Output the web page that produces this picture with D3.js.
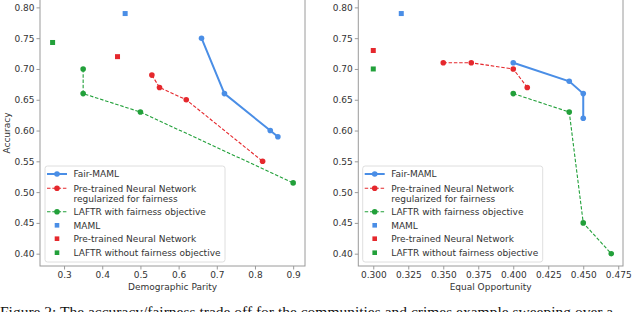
<!DOCTYPE html>
<html>
<head>
<meta charset="utf-8">
<script src="https://d3js.org/d3.v7.min.js"></script>
<style>
  body { margin: 0; background: #fff; }
  text { font-family: "DejaVu Sans", sans-serif; }
</style>
</head>
<body>
<svg id="chart" width="640" height="312"></svg>
<script>
// data
const yTicks = [0.40, 0.45, 0.50, 0.55, 0.60, 0.65, 0.70, 0.75, 0.80];
const dpTicks = [0.3, 0.4, 0.5, 0.6, 0.7, 0.8, 0.9];
const eoTicks = [0.300, 0.325, 0.350, 0.375, 0.400, 0.425, 0.450, 0.475];

// Demographic parity panel
const dpFairMaml = [[0.66, 0.75], [0.72, 0.66], [0.84, 0.60], [0.86, 0.59]];
const dpPretrainedReg = [[0.53, 0.69], [0.55, 0.67], [0.62, 0.65], [0.82, 0.55]];
const dpLaftrFair = [[0.35, 0.70], [0.35, 0.66], [0.50, 0.63], [0.90, 0.515]];
const dpMaml = [[0.46, 0.79]];
const dpPretrained = [[0.44, 0.72]];
const dpLaftr = [[0.27, 0.743]];

// Equal opportunity panel
const eoFairMaml = [[0.40, 0.71], [0.44, 0.68], [0.45, 0.66], [0.45, 0.62]];
const eoPretrainedReg = [[0.35, 0.71], [0.37, 0.71], [0.40, 0.70], [0.41, 0.67]];
const eoLaftrFair = [[0.40, 0.66], [0.44, 0.63], [0.45, 0.45], [0.47, 0.40]];
const eoMaml = [[0.32, 0.79]];
const eoPretrained = [[0.30, 0.73]];
const eoLaftr = [[0.30, 0.70]];

const legendLabels = [
  ["Fair-MAML"],
  ["Pre-trained Neural Network", "regularized for fairness"],
  ["LAFTR with fairness objective"],
  ["MAML"],
  ["Pre-trained Neural Network"],
  ["LAFTR without fairness objective"]
];

const blue = "#4a8ee6", red = "#e5282d", green = "#22a03a";
const spine = "#9a9a9a", ink = "#333";

const svg = d3.select("#chart");

function panel(opt) {
  const x = d3.scaleLinear().domain(opt.xDomain).range(opt.xRange);
  const y = d3.scaleLinear().domain([0.38, 0.812]).range([266, 0]);
  const g = svg.append("g");

  // frame
  g.append("rect")
    .attr("x", opt.xRange[0]).attr("y", -1)
    .attr("width", opt.xRange[1] - opt.xRange[0]).attr("height", 267)
    .attr("fill", "none").attr("stroke", spine).attr("stroke-width", 1);

  const xAxis = g.append("g").attr("transform", "translate(0,266)")
    .call(d3.axisBottom(x).tickValues(opt.xTicks).tickFormat(opt.xFormat).tickSize(3.5).tickPadding(2));
  const yAxis = g.append("g").attr("transform", `translate(${opt.xRange[0]},0)`)
    .call(d3.axisLeft(y).tickValues(yTicks).tickFormat(d3.format(".2f")).tickSize(3.5).tickPadding(2));
  [xAxis, yAxis].forEach(a => {
    a.select(".domain").remove();
    a.selectAll(".tick line").attr("stroke", spine);
    a.selectAll(".tick text").attr("fill", ink).style("font-size", "9px")
      .style("font-family", "DejaVu Sans");
  });

  g.append("text")
    .attr("x", (opt.xRange[0] + opt.xRange[1]) / 2).attr("y", 289.5)
    .attr("text-anchor", "middle").attr("fill", ink).style("font-size", "9px")
    .text(opt.xLabel);
  if (opt.yLabel) {
    g.append("text")
      .attr("transform", "translate(10,133) rotate(-90)")
      .attr("text-anchor", "middle").attr("fill", ink).style("font-size", "9px")
      .text(opt.yLabel);
  }

  const line = d3.line().x(d => x(d[0])).y(d => y(d[1]));
  const series = [
    { data: opt.fairMaml, color: blue, width: 2, dash: null },
    { data: opt.pretrainedReg, color: red, width: 1.1, dash: "3.5,1.8" },
    { data: opt.laftrFair, color: green, width: 1.1, dash: "3.5,1.8" }
  ];
  series.forEach(s => {
    g.append("path").datum(s.data)
      .attr("d", line).attr("fill", "none")
      .attr("stroke", s.color).attr("stroke-width", s.width)
      .attr("stroke-dasharray", s.dash);
    g.selectAll(null).data(s.data).join("circle")
      .attr("cx", d => x(d[0])).attr("cy", d => y(d[1])).attr("r", 2.8)
      .attr("fill", s.color);
  });
  [[opt.maml, blue], [opt.pretrained, red], [opt.laftr, green]].forEach(([data, c]) => {
    g.selectAll(null).data(data).join("rect")
      .attr("x", d => x(d[0]) - 2.5).attr("y", d => y(d[1]) - 2.5)
      .attr("width", 5).attr("height", 5).attr("fill", c);
  });

  // legend
  const lx = opt.xRange[0] + opt.legendDx;
  const lg = g.append("g");
  lg.append("rect")
    .attr("x", lx).attr("y", 166).attr("width", 180).attr("height", 96)
    .attr("rx", 2.5).attr("fill", "white").attr("fill-opacity", 0.8)
    .attr("stroke", "#d5d5d5").attr("stroke-width", 0.8);
  const rowY = [174, 188.3, 211.7, 225.3, 238.7, 252.7];
  const colors = [blue, red, green, blue, red, green];
  legendLabels.forEach((lines, i) => {
    const cy = rowY[i];
    const c = colors[i];
    if (i < 3) {
      lg.append("line")
        .attr("x1", lx + 2).attr("x2", lx + 22).attr("y1", cy).attr("y2", cy)
        .attr("stroke", c).attr("stroke-width", i === 0 ? 2 : 1.1)
        .attr("stroke-dasharray", i === 0 ? null : "3.5,1.8");
      lg.append("circle").attr("cx", lx + 12).attr("cy", cy).attr("r", 2.8).attr("fill", c);
    } else {
      lg.append("rect").attr("x", lx + 9.7).attr("y", cy - 2.3)
        .attr("width", 4.6).attr("height", 4.6).attr("fill", c);
    }
    lines.forEach((t, k) => {
      lg.append("text")
        .attr("x", lx + 28.5).attr("y", cy + 3.3 + k * 10)
        .attr("fill", ink).style("font-size", "9px").text(t);
    });
  });
}

panel({
  xDomain: [0.237, 0.931], xRange: [40, 305], xTicks: dpTicks, xFormat: d3.format(".1f"),
  xLabel: "Demographic Parity", yLabel: "Accuracy", legendDx: 5,
  fairMaml: dpFairMaml, pretrainedReg: dpPretrainedReg, laftrFair: dpLaftrFair,
  maml: dpMaml, pretrained: dpPretrained, laftr: dpLaftr
});
panel({
  xDomain: [0.2893, 0.4784], xRange: [358.3, 623], xTicks: eoTicks, xFormat: d3.format(".3f"),
  xLabel: "Equal Opportunity", yLabel: null, legendDx: 4.4,
  fairMaml: eoFairMaml, pretrainedReg: eoPretrainedReg, laftrFair: eoLaftrFair,
  maml: eoMaml, pretrained: eoPretrained, laftr: eoLaftr
});

// caption, cut by the bottom edge as in the reference
svg.append("text")
  .attr("x", 0).attr("y", 317)
  .style("font-family", "Liberation Serif, serif").style("font-size", "15.5px")
  .attr("fill", "#111")
  .text("Figure 2: The accuracy/fairness trade off for the communities and crimes example sweeping over a");
</script>
</body>
</html>
